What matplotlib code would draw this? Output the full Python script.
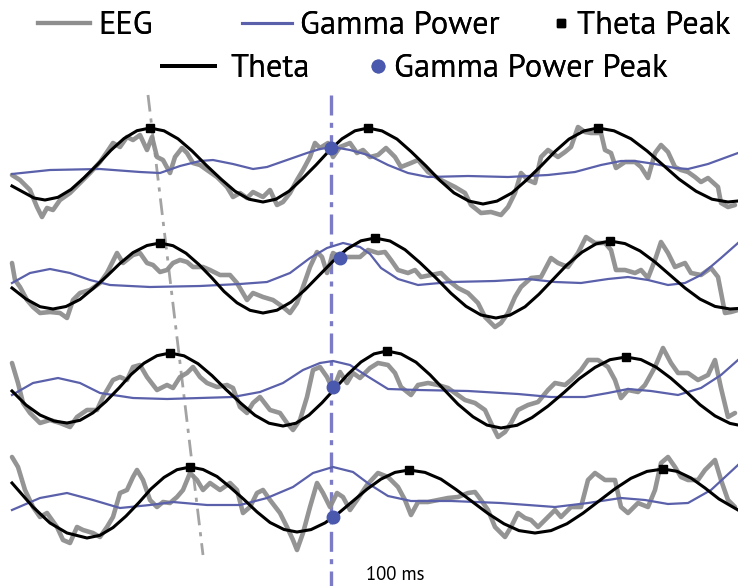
import matplotlib
matplotlib.use("Agg")
import matplotlib.pyplot as plt
from matplotlib.lines import Line2D
from matplotlib import font_manager

# ---- recorded traces: (time, amplitude) samples, one list per trial row ----
eeg_row1 = [(12,175),(20,180),(30,190),(37,207),(42,217),(47,208),(53,210),(60,200),(70,193),(80,183),(90,173),(100,162),(107,152),(113,143),(120,147),(127,137),(133,140),(140,135),(147,150),(152,137),(157,157),(163,160),(170,173),(175,157),(182,148),(187,153),(193,163),(200,165),(207,170),(217,177),(227,187),(233,197),(240,193),(247,198),(253,192),(263,197),(270,190),(277,205),(283,202),(290,193),(297,180),(303,170),(310,157),(315,143),(320,148),(328,143),(333,157),(340,147),(350,143),(357,153),(363,150),(370,157),(378,155),(386,148),(395,157),(401,167),(411,163),(418,160),(428,172),(441,180),(455,187),(465,193),(471,205),(481,213),(491,212),(501,215),(508,207),(515,193),(521,173),(528,180),(535,183),(541,157),(548,150),(558,157),(565,152),(571,147),(578,127),(585,132),(591,133),(601,133),(605,150),(611,153),(616,168),(625,162),(635,162),(641,167),(648,178),(655,153),(661,145),(668,152),(675,167),(681,170),(688,172),(695,177),(701,182),(708,178),(718,187),(721,203),(728,207),(735,205)]
eeg_row2 = [(12,263),(15,280),(20,287),(27,300),(33,307),(40,313),(50,312),(60,313),(67,318),(73,300),(80,293),(90,290),(100,283),(107,273),(117,253),(123,263),(133,255),(140,253),(147,263),(153,265),(160,272),(167,270),(173,263),(180,260),(187,262),(193,267),(203,267),(210,270),(220,275),(230,275),(237,283),(247,300),(253,293),(263,297),(273,300),(283,307),(290,313),(297,303),(303,287),(310,267),(317,252),(322,257),(327,273),(333,253),(340,257),(350,257),(360,257),(368,250),(378,253),(385,252),(391,260),(398,270),(408,273),(415,270),(421,277),(431,275),(441,273),(448,280),(458,288),(468,293),(478,303),(485,317),(495,327),(501,323),(508,313),(515,297),(521,287),(531,278),(541,277),(551,258),(558,263),(568,267),(578,253),(586,237),(595,243),(605,243),(611,250),(616,270),(625,270),(635,273),(641,270),(648,278),(655,260),(661,242),(668,253),(675,267),(685,263),(691,273),(701,275),(711,268),(718,277),(725,313),(731,312),(738,310)]
eeg_row3 = [(12,363),(18,383),(23,403),(30,413),(40,423),(50,420),(60,423),(70,427),(77,417),(87,410),(97,410),(103,397),(113,380),(120,377),(127,380),(133,367),(140,365),(147,377),(157,390),(167,385),(173,388),(180,377),(187,373),(193,367),(200,377),(207,383),(217,387),(227,385),(233,388),(240,407),(247,413),(253,403),(260,397),(270,410),(280,413),(287,423),(293,430),(300,420),(307,397),(313,370),(320,367),(327,377),(333,390),(340,372),(347,383),(353,373),(360,378),(370,368),(378,363),(388,365),(395,373),(401,387),(411,395),(418,385),(428,383),(438,385),(448,388),(455,393),(465,400),(475,403),(485,410),(491,423),(498,437),(505,432),(511,423),(518,410),(528,405),(538,402),(548,390),(555,383),(565,385),(571,380),(581,370),(588,360),(598,360),(608,367),(615,380),(621,398),(628,390),(638,392),(645,385),(655,367),(663,348),(671,363),(678,373),(688,373),(698,380),(708,375),(715,360),(721,388),(728,417),(735,413)]
eeg_row4 = [(12,457),(18,467),(25,490),(33,507),(40,517),(47,513),(57,527),(63,540),(70,543),(77,527),(83,530),(93,533),(100,537),(107,527),(113,517),(120,493),(127,490),(133,477),(137,470),(143,480),(150,500),(157,507),(163,502),(170,503),(177,497),(183,490),(190,473),(197,480),(203,490),(210,483),(220,490),(230,483),(237,490),(243,513),(250,507),(257,493),(263,490),(270,500),(280,513),(287,527),(293,540),(297,550),(303,533),(310,507),(317,483),(323,493),(330,507),(337,493),(343,497),(350,510),(357,500),(367,485),(378,473),(388,477),(398,487),(405,500),(411,515),(418,502),(428,502),(438,500),(448,498),(458,497),(468,493),(475,492),(481,500),(488,510),(495,527),(505,537),(511,527),(518,513),(525,518),(531,520),(538,527),(548,517),(555,510),(561,517),(571,507),(581,507),(588,480),(595,473),(605,480),(615,480),(621,507),(628,513),(638,503),(648,507),(655,490),(661,463),(668,457),(675,467),(681,477),(688,480),(698,480),(705,470),(715,460),(721,480),(728,500),(735,507)]

theta_row1 = [(12,186),(23,192),(34,198),(45,200),(58,197.3),(71,189.5),(84,177.8),(98,164),(111,150.2),(124,138.5),(137,130.7),(150,128),(164,130.8),(178,138.8),(192,150.9),(206,165),(221,179.1),(235,191.2),(249,199.2),(263,202),(276,199.2),(289,191.2),(302,179.1),(316,165),(329,150.9),(342,138.8),(355,130.8),(368,128),(382,130.9),(397,139.1),(411,151.5),(426,166),(440,180.5),(454,192.9),(469,201.1),(483,204),(497,201.1),(512,192.9),(526,180.5),(541,166),(555,151.5),(569,139.1),(584,130.9),(598,128),(614,130.8),(631,138.8),(647,150.9),(663,165),(679,179.1),(696,191.2),(712,199.2),(728,202),(738,201)]
theta_row2 = [(12,288),(26,299),(40,306.7),(53,309),(66,306.5),(80,299.4),(93,288.6),(107,276),(120,263.4),(133,252.6),(147,245.5),(160,243),(173,245.7),(186,253.2),(199,264.6),(212,278),(224,291.4),(237,302.8),(250,310.3),(263,313),(277,310.2),(291,302.1),(305,289.8),(319,275.5),(333,261.2),(347,249),(361,240.8),(375,238),(390,241),(405,249.7),(420,262.7),(436,278),(451,293.3),(466,306.3),(481,315),(496,318),(510,315.1),(525,306.8),(539,294.2),(553,279.5),(567,264.8),(582,252.2),(596,243.9),(610,241),(625,243.6),(640,250.9),(655,262),(670,275),(685,288),(700,299.1),(715,306.4),(730,309),(738,308.5)]
theta_row3 = [(12,391),(26,405),(40,415),(54,421),(67,423),(80,420.3),(93,412.8),(106,401.4),(119,388),(131,374.6),(144,363.2),(157,355.7),(170,353),(184,355.8),(198,363.7),(212,375.6),(226,389.5),(241,403.4),(255,415.3),(269,423.2),(283,426),(296,423.2),(309,415.1),(322,402.8),(335,388.5),(348,374.2),(361,362),(374,353.9),(387,351),(401,353.9),(416,362.2),(430,374.8),(444,389.5),(458,404.2),(473,416.8),(487,425.1),(501,428),(517,425.3),(532,417.6),(548,406.1),(564,392.5),(579,378.9),(595,367.4),(610,359.7),(626,357),(641,359.6),(656,367.1),(671,378.3),(686,391.5),(700,404.7),(715,415.9),(730,423.4),(738,425)]
theta_row4 = [(12,483),(33,507),(50,523),(67,533),(87,538),(100,535.3),(113,527.6),(126,516.1),(139,502.5),(151,488.9),(164,477.4),(177,469.7),(190,467),(203,469.5),(217,476.5),(230,487.1),(244,499.5),(257,511.9),(270,522.5),(284,529.5),(297,532),(311,529.6),(325,522.9),(339,512.8),(353,501),(367,489.2),(381,479.1),(395,472.4),(409,470),(425,472.4),(441,479.2),(456,489.5),(472,501.5),(488,513.5),(504,523.8),(519,530.6),(535,533),(551,530.6),(567,523.7),(583,513.2),(599,501),(615,488.8),(631,478.3),(647,471.4),(663,469),(677,471.3),(691,478),(705,488),(719,499),(738,510)]

gamma_row1 = [(12,174),(50,170),(100,169),(140,172),(160,173),(180,166),(200,161),(213,160),(233,164),(253,169),(267,167),(287,160),(307,153),(320,149),(333,147),(350,150),(368,155),(388,165),(408,173),(428,177),(468,176),(508,177),(548,175),(575,172),(601,165),(621,161),(635,161),(655,164),(675,168),(688,169),(708,164),(738,153)]
gamma_row2 = [(12,283),(30,273),(50,269),(70,273),(90,280),(110,285),(150,287),(200,286),(240,284),(267,282),(290,273),(310,258),(327,248),(343,243),(360,247),(370,254),(381,268),(398,279),(418,285),(451,282),(495,281),(528,279),(555,282),(581,283),(608,279),(628,277),(648,280),(668,285),(685,283),(701,275),(721,258),(738,243)]
gamma_row3 = [(12,395),(33,383),(58,378),(80,383),(100,393),(133,398),(167,399),(200,398),(233,397),(260,392),(283,383),(303,370),(320,363),(333,361),(350,365),(367,376),(388,389),(418,390),(468,391),(518,394),(551,397),(585,397),(608,393),(628,389),(651,391),(678,395),(701,388),(721,375),(738,360)]
gamma_row4 = [(12,510),(40,498),(67,493),(93,500),(120,508),(150,505),(173,502),(207,505),(240,505),(267,498),(293,487),(313,473),(333,467),(353,472),(369,484),(388,496),(411,501),(451,501),(501,503),(555,507),(588,503),(621,498),(645,500),(668,504),(688,503),(711,490),(738,465)]

# theta peaks (time, amplitude) per row
theta_peaks = [
    [(150,128),(368,128),(598,128)],
    [(160,243),(375,238),(610,241)],
    [(170,353),(387,351),(626,357)],
    [(190,467),(409,470),(663,469)],
]
# gamma power peak per row (time, amplitude)
gamma_peaks = [(331,148),(340,258),(333,387),(333,517)]

# reference lines: gamma-peak alignment time and theta-peak drift
gamma_align_t = 331
drift_t = [148, 203]
drift_v = [95, 555]
span_v = [95, 586]

scale_label = "100 ms"

EEG_C = "#8e8e8e"
GAMMA_C = "#5a60aa"
DOT_C = "#4a58ad"
VLINE_C = "#7c7cc6"
DRIFT_C = "#a3a3a3"

W, H = 738, 586
fig = plt.figure(figsize=(W / 100, H / 100), dpi=100)
ax = fig.add_axes([0, 0, 1, 1])
ax.set_xlim(0, W)
ax.set_ylim(H, 0)
ax.axis("off")

available = {f.name for f in font_manager.fontManager.ttflist}
FAM = next((f for f in ["Source Sans Pro", "Myriad Pro", "PT Sans", "Open Sans", "DejaVu Sans"]
            if f in available), "DejaVu Sans")
plt.rcParams["font.family"] = [FAM, "DejaVu Sans"]

renderer = fig.canvas.get_renderer()


def fit_size(text, width_px, base=20.0):
    probe = fig.text(0, 0, text, fontsize=base)
    w = probe.get_window_extent(renderer).width
    probe.remove()
    return base * width_px / w


def unzip(pairs):
    return [p[0] for p in pairs], [p[1] for p in pairs]


ax.plot(drift_t, drift_v, color=DRIFT_C, lw=2.0, ls=(0, (6, 2.5, 1.5, 2.5)), zorder=1)
ax.plot([gamma_align_t, gamma_align_t], span_v, color=VLINE_C, lw=2.4,
        ls=(0, (6, 2.2, 1.5, 2.2)), zorder=1)

for eeg in [eeg_row1, eeg_row2, eeg_row3, eeg_row4]:
    t, v = unzip(eeg)
    ax.plot(t, v, color=EEG_C, lw=3.3, alpha=0.95, solid_joinstyle="round",
            solid_capstyle="round", zorder=2)

for g in [gamma_row1, gamma_row2, gamma_row3, gamma_row4]:
    t, v = unzip(g)
    ax.plot(t, v, color=GAMMA_C, lw=1.6, zorder=3)

for th in [theta_row1, theta_row2, theta_row3, theta_row4]:
    t, v = unzip(th)
    ax.plot(t, v, color="black", lw=2.2, zorder=4)

for pk in theta_peaks:
    t, v = unzip(pk)
    ax.plot(t, v, ls="none", marker="s", ms=5.5, color="black", zorder=5)

t, v = unzip(gamma_peaks)
ax.plot(t, v, ls="none", marker="o", ms=9, color=DOT_C, zorder=6)

ax.text(395, 575, scale_label, ha="center", va="center",
        fontsize=fit_size(scale_label, 59))

# legend: one entry per box so each handle sits where it belongs
LEG_FS = fit_size("Gamma Power Peak", 273)
fs_px = LEG_FS * 100 / 72

h_eeg = Line2D([], [], color=EEG_C, lw=3)
h_gam = Line2D([], [], color=GAMMA_C, lw=2.2)
h_tpk = Line2D([], [], ls="none", marker="s", ms=6, color="black")
h_th = Line2D([], [], color="black", lw=2.8)
h_gpk = Line2D([], [], ls="none", marker="o", ms=9, color=DOT_C)

entries = [
    # handle, label, handle start px, handle length px, gap px, row centre px
    (h_eeg, "EEG", 38, 52, 8, 26),
    (h_gam, "Gamma Power", 242, 50, 8, 26),
    (h_tpk, "Theta Peak", 556, 10, 11, 26),
    (h_th, "Theta", 162, 53, 15, 69),
    (h_gpk, "Gamma Power Peak", 373, 10, 11, 69),
]
for handle, label, x0, hl, gap, yc in entries:
    leg = fig.legend([handle], [label], loc="center left",
                     bbox_to_anchor=(x0 / W, 1 - yc / H), frameon=False,
                     fontsize=LEG_FS, borderpad=0, borderaxespad=0,
                     handlelength=hl / fs_px, handletextpad=gap / fs_px)
    fig.add_artist(leg)

fig.savefig("out.png", dpi=100)
